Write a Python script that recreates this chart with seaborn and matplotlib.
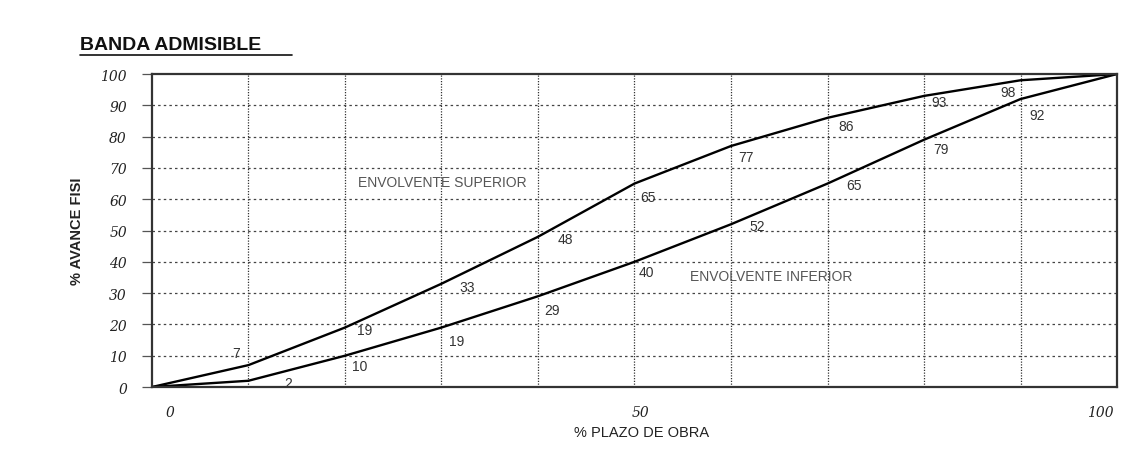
import pandas as pd
import matplotlib.pyplot as plt
import matplotlib.transforms as mtransforms
import seaborn as sns

# Data
plazo = [0, 10, 20, 30, 40, 50, 60, 70, 80, 90, 100]
env_superior = [0, 7, 19, 33, 48, 65, 77, 86, 93, 98, 100]
env_inferior = [0, 2, 10, 19, 29, 40, 52, 65, 79, 92, 100]
x_tick_labels = ["0", "50", "100"]

# label offsets (pixels) for the point values
sup_offsets = [None, (-12, 12), (20, -2), (26, -3), (27, -2), (14, -13), (15, -11),
               (19, -8), (15, -6), (-12, -12), None]
inf_offsets = [None, (40, -2), (15, -10), (15, -13), (14, -14), (12, -10), (26, -2),
               (26, -1), (17, -9), (17, -16), None]

df = pd.concat([
    pd.DataFrame({"plazo": plazo, "avance": env_superior, "serie": "superior"}),
    pd.DataFrame({"plazo": plazo, "avance": env_inferior, "serie": "inferior"}),
])

sns.set_theme(style="white")
plt.rcParams["font.family"] = ["Liberation Sans", "DejaVu Sans"]

fig = plt.figure(figsize=(11.24, 4.56), dpi=100)
ax = fig.add_axes([0.1352, 0.1491, 0.8586, 0.6864])

sns.lineplot(data=df, x="plazo", y="avance", units="serie", estimator=None,
             color="black", linewidth=1.7, ax=ax, legend=False)

ax.set_xlim(0, 100)
ax.set_ylim(0, 100)

# grid: dotted verticals, dashed horizontals
for xv in range(10, 100, 10):
    ax.axvline(xv, color="#333333", linestyle=(0, (1, 1.2)), linewidth=0.9, zorder=0)
for yv in range(10, 100, 10):
    ax.axhline(yv, color="#444444", linestyle=(0, (2, 2.5)), linewidth=0.9, zorder=0)

ax.set_yticks(range(0, 101, 10))
ax.set_yticklabels([str(v) for v in range(0, 101, 10)], fontfamily="DejaVu Serif",
                   fontstyle="italic", fontsize=10, color="#222222")
ax.tick_params(axis="y", length=7, width=0.9, color="#555555", pad=11, left=True)

ax.set_xticks([0, 50, 100])
ax.set_xticklabels(x_tick_labels, fontfamily="DejaVu Serif", fontstyle="italic",
                   fontsize=10, color="#222222")
ax.tick_params(axis="x", length=0, pad=13)
shifts = [18, 6, -17]
for lab, dx in zip(ax.get_xticklabels(), shifts):
    lab.set_transform(lab.get_transform() +
                      mtransforms.ScaledTranslation(dx / 100, 0, fig.dpi_scale_trans))

for sp in ax.spines.values():
    sp.set_visible(True)
    sp.set_color("#333333")
    sp.set_linewidth(1.6)

ax.set_xlabel("% PLAZO DE OBRA", fontsize=10.5, color="#222222")
ax.xaxis.set_label_coords(0.507, -0.12)
ax.set_ylabel("% AVANCE FISI", fontsize=10.5, fontweight="bold", color="#222222")
ax.yaxis.set_label_coords(-0.07, 0.5)

# point value labels
for xs, ys, offs in [(plazo, env_superior, sup_offsets), (plazo, env_inferior, inf_offsets)]:
    for xv, yv, off in zip(xs, ys, offs):
        if off is None:
            continue
        ax.annotate(str(yv), (xv, yv), xytext=off, textcoords="offset pixels",
                    ha="center", va="center", fontsize=10, color="#333333")

ax.text(21.3, 65.5, "ENVOLVENTE SUPERIOR", fontsize=10, color="#555555", va="center")
ax.text(55.8, 35.5, "ENVOLVENTE INFERIOR", fontsize=10, color="#555555", va="center")

fig.text(0.071, 0.901, "BANDA ADMISIBLE", fontsize=14, fontweight="bold",
         color="#111111", ha="left", va="center")
fig.add_artist(plt.Line2D([0.071, 0.26], [0.877, 0.877], color="#111111", linewidth=1.2))

fig.savefig("out.png", dpi=100)
